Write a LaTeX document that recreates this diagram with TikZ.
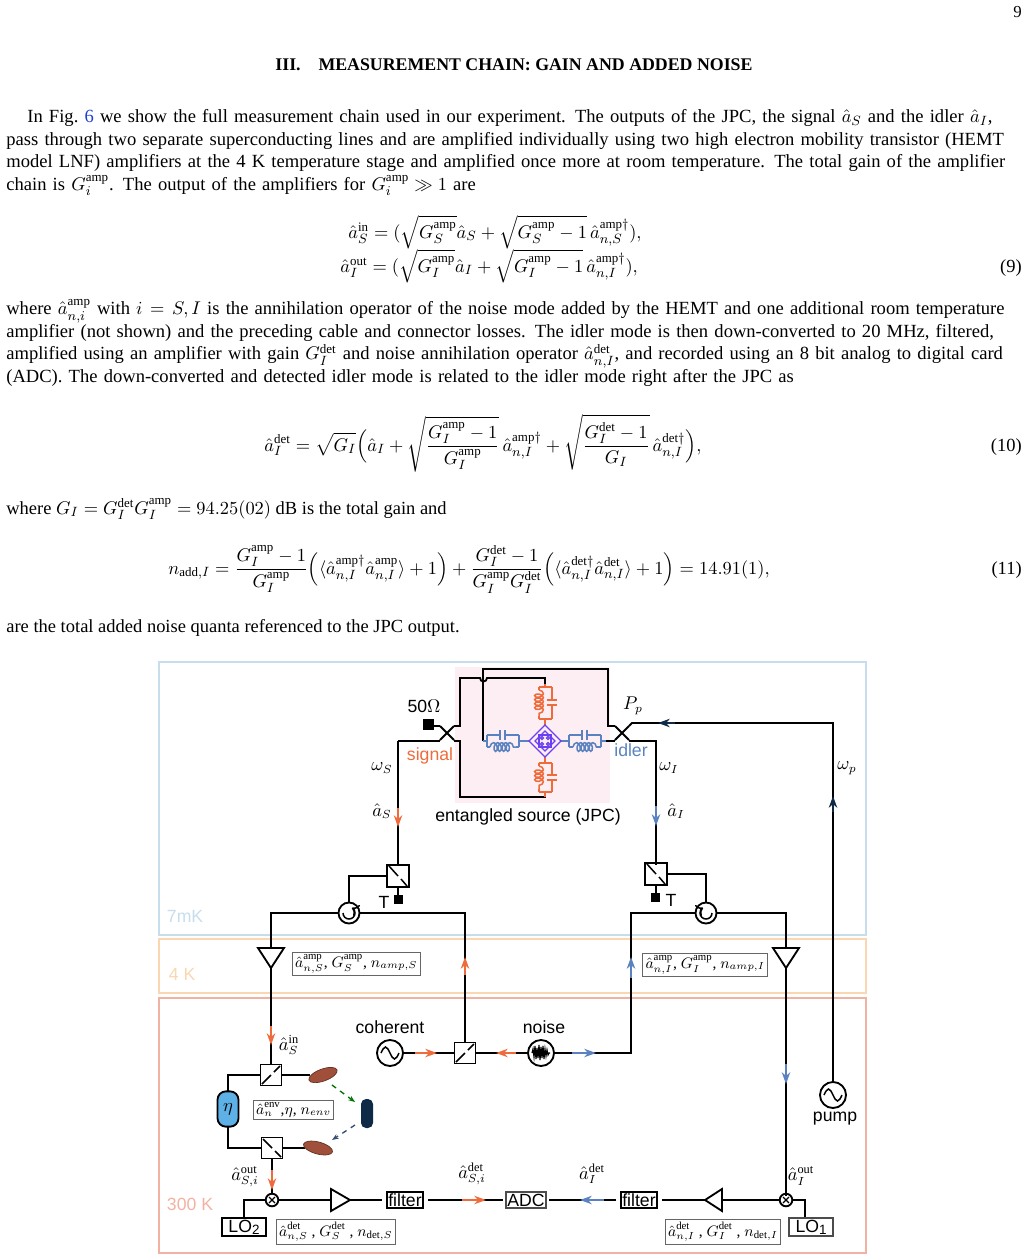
\documentclass[tikz,border=0pt]{standalone}
\usepackage{amsmath,amssymb}
\usepackage{fontspec}
\setmainfont{Liberation Serif}
\newfontfamily\lsans{Liberation Sans}
\usetikzlibrary{arrows.meta,decorations.pathmorphing,shapes.geometric}
\definecolor{sig}{HTML}{EE6B3B}
\definecolor{idl}{HTML}{5B82C0}
\definecolor{navy}{HTML}{0E2A47}
\definecolor{cmk}{HTML}{C8DDEC}
\definecolor{cfk}{HTML}{FAD7B0}
\definecolor{cth}{HTML}{F2B2A3}
\definecolor{pinkbg}{HTML}{FDEEF3}
\definecolor{purp}{HTML}{6A40F0}
\definecolor{etab}{HTML}{5DB1E6}
\definecolor{mirr}{HTML}{A0503A}
\definecolor{lnk}{HTML}{2040D0}
\begin{document}
\begin{tikzpicture}[x=0.595pt,y=-0.595pt,
  wire/.style={line width=1.1pt,black},
  tip/.style={-{Stealth[length=7pt,width=5pt]},line width=1.1pt},
  box/.style={draw,line width=1.1pt,inner sep=1pt,font=\lsans\fontsize{10.5}{10}\selectfont},
  lbox/.style={draw=black!60,line width=0.6pt,inner sep=1.5pt,fill=white,font=\fontsize{9.2}{10}\selectfont},
  ml/.style={font=\fontsize{10.5}{11}\selectfont},
  sans/.style={font=\lsans\fontsize{10.5}{11}\selectfont},
  coilp/.style={decorate,decoration={coil,aspect=0.6,segment length=2.4pt,amplitude=2.6pt}},
  eq/.style={inner sep=0pt,font=\fontsize{11}{13}\selectfont},
  para/.style={anchor=north west,inner sep=0pt,text width=604.5pt,font=\fontsize{11.05}{13.5}\selectfont}]
\useasboundingbox (0,0) rectangle (1029,1260);
% ---------- text ----------
\node[anchor=base east,inner sep=0pt,font=\fontsize{10}{10}\selectfont] (pg) at (1022,18) {9};
\node[anchor=base,inner sep=0pt,font=\bfseries\fontsize{10.6}{11}\selectfont] (sec) at (514,71) {III.\quad MEASUREMENT CHAIN: GAIN AND ADDED NOISE};
\node[para] (p1) at (6,109) {\hspace*{12.5pt}In Fig.~\textcolor{lnk}{6} we show the full measurement chain used in our experiment. The outputs of the JPC, the signal $\hat a_S$ and the idler $\hat a_I$, pass through two separate superconducting lines and are amplified individually using two high electron mobility transistor (HEMT model LNF) amplifiers at the 4 K temperature stage and amplified once more at room temperature. The total gain of the amplifier chain is $G_i^{\rm amp}$. The output of the amplifiers for $G_i^{\rm amp}\gg 1$ are};
\node[eq,anchor=base west] (e9a) at (348,238) {$\hat a_S^{\rm in}=(\sqrt{G_S^{\rm amp}}\hat a_S+\sqrt{G_S^{\rm amp}-1}\,\hat a_{n,S}^{\rm amp\dagger}),$};
\node[eq,anchor=base west] (e9b) at (340,272) {$\hat a_I^{\rm out}=(\sqrt{G_I^{\rm amp}}\hat a_I+\sqrt{G_I^{\rm amp}-1}\,\hat a_{n,I}^{\rm amp\dagger}),$};
\node[eq,anchor=base east] (n9) at (1022,272) {(9)};
\node[para] (p2) at (6,299) {where $\hat a^{\rm amp}_{n,i}$ with $i=S,I$ is the annihilation operator of the noise mode added by the HEMT and one additional room temperature amplifier (not shown) and the preceding cable and connector losses. The idler mode is then down-converted to 20 MHz, filtered, amplified using an amplifier with gain $G_I^{\rm det}$ and noise annihilation operator $\hat a^{\rm det}_{n,I}$, and recorded using an 8 bit analog to digital card (ADC). The down-converted and detected idler mode is related to the idler mode right after the JPC as};
\node[eq,anchor=base west] (e10) at (264,451) {$\displaystyle \hat a_I^{\rm det}=\sqrt{G_I}\Big(\hat a_I+\sqrt{\frac{G_I^{\rm amp}-1}{G_I^{\rm amp}}}\,\hat a_{n,I}^{\rm amp\dagger}+\sqrt{\frac{G_I^{\rm det}-1}{G_I}}\,\hat a_{n,I}^{\rm det\dagger}\Big),$};
\node[eq,anchor=base east] (n10) at (1022,451) {(10)};
\node[eq,anchor=base west] (p3) at (6,514) {where $G_I=G_I^{\rm det}G_I^{\rm amp}=94.25(02)$ dB is the total gain and};
\node[eq,anchor=base west] (e11) at (168,574) {$\displaystyle n_{{\rm add},I}=\frac{G_I^{\rm amp}-1}{G_I^{\rm amp}}\Big(\langle\hat a^{\rm amp\dagger}_{n,I}\hat a^{\rm amp}_{n,I}\rangle+1\Big)+\frac{G_I^{\rm det}-1}{G_I^{\rm amp}G_I^{\rm det}}\Big(\langle\hat a^{\rm det\dagger}_{n,I}\hat a^{\rm det}_{n,I}\rangle+1\Big)=14.91(1),$};
\node[eq,anchor=base east] (n11) at (1022,574) {(11)};
\node[eq,anchor=base west] (p4) at (6,632) {are the total added noise quanta referenced to the JPC output.};
% ---------- figure frames ----------
\draw[cmk,line width=1.2pt] (159,662) rectangle (866,935);
\draw[cfk,line width=1.2pt] (159,939) rectangle (866,993);
\draw[cth,line width=1.2pt] (159,998) rectangle (866,1253);
\node[sans,text=cmk,anchor=west] (l7) at (161,916) {7mK};
\node[sans,text=cfk,anchor=west] (l4) at (163,974) {4 K};
\node[sans,text=cth,anchor=west] (l3) at (161,1204) {300 K};
\fill[pinkbg] (455,667) rectangle (610,803);
% ---------- JPC ----------
\coordinate (cs) at (447,733);
\coordinate (ci) at (622,733);
\draw[wire] (cs)++(-7,-7)--++(14,14) (cs)++(-7,7)--++(14,-14);
\draw[wire] (ci)++(-7,-7)--++(14,14) (ci)++(-7,7)--++(14,-14);
\fill (423,719) rectangle (434,730);
\node[sans,anchor=south] (ohm) at (424,719) {50$\Omega$};
\draw[wire] (434,726)--(440,726);
\draw[wire] (454,726)--(460,726)--(460,678)--(480,678) arc[start angle=180,end angle=0,radius=3.5]--(545,678)--(545,684);
\draw[wire] (454,741)--(460,741)--(460,797)--(545,797)--(545,792);
\draw[wire] (483,741)--(483,669)--(608,669)--(608,726)--(615,726);
\draw[wire] (398,741)--(440,741);
\draw[wire] (629,741)--(656,741)--(656,865);
\begin{scope}[sig,line width=0.9pt]
\draw (545,684)--(545,687) (539,687)--(552,687) (539,687)--(539,690) (539,716)--(539,719) (539,719)--(552,719) (545,719)--(545,725);
\draw[coilp] (539,690)--(539,716);
\draw (552,687)--(552,700) (547,700)--(557,700) (547,705)--(557,705) (552,705)--(552,719);
\draw (545,757)--(545,763) (539,763)--(552,763) (539,763)--(539,766) (539,789)--(539,792) (539,792)--(552,792) (545,792)--(545,797);
\draw[coilp] (539,766)--(539,789);
\draw (552,763)--(552,775) (547,775)--(557,775) (547,780)--(557,780) (552,780)--(552,792);
\end{scope}
\begin{scope}[idl,line width=0.9pt]
\draw (483,741)--(487,741) (487,735)--(487,747) (487,735)--(500,735) (500,730)--(500,740) (505,730)--(505,740) (505,735)--(519,735) (519,735)--(519,747) (487,747)--(490,747) (516,747)--(519,747) (519,741)--(529,741);
\draw[coilp] (490,747)--(516,747);
\draw (561,741)--(569,741) (569,735)--(569,747) (569,735)--(582,735) (582,730)--(582,740) (587,730)--(587,740) (587,735)--(601,735) (601,735)--(601,747) (569,747)--(573,747) (597,747)--(601,747) (601,741)--(606,741);
\draw[coilp] (573,747)--(597,747);
\end{scope}
\draw[black,line width=0.9pt] (606,741)--(615,741);
\begin{scope}[purp,line width=0.8pt]
\draw (545,725)--(561,741)--(545,757)--(529,741)--cycle;
\draw (545,731)--(555,741)--(545,751)--(535,741)--cycle;
\draw (539,735) rectangle (551,747);
\foreach \p in {(542,738),(548,738),(542,744),(548,744)} \draw \p circle (1.5);
\end{scope}
\node[sans,text=sig,anchor=center] (sg) at (430,756) {signal};
\node[sans,text=idl,anchor=center] (il) at (631,750) {idler};
\node[sans,anchor=center] (jpc) at (528,817) {entangled source (JPC)};
\node[ml] (ws) at (382,768) {$\omega_S$};
\node[ml] (as) at (382,811) {$\hat a_S$};
\node[ml] (wi) at (669,768) {$\omega_I$};
\node[ml] (ai) at (676,811) {$\hat a_I$};
\node[ml] (pp) at (633,706) {$P_p$};
\node[ml] (wp) at (847,768) {$\omega_p$};
% pump line
\draw[wire] (629,726)--(632,723)--(833,723)--(833,1082);
\draw[tip,navy] (675,723)--(658,723);
\draw[tip,navy] (833,812)--(833,796);
\node[draw,circle,line width=1.1pt,minimum size=15.5pt,inner sep=0pt] (pump) at (833,1095) {};
\draw[line width=0.9pt] (824,1095) sin (828.5,1089) cos (833,1095) sin (837.5,1101) cos (842,1095);
\node[sans,anchor=north] (pl) at (835,1106) {pump};
% signal chain
\draw[wire] (398,741)--(398,865);
\draw[tip,sig] (398,808)--(398,827);
\node[draw,line width=1.1pt,minimum size=13pt,inner sep=0pt] (sp1) at (398,876) {};
\draw[line width=0.9pt] (389,866)--(398,876) (401,879)--(407,886);
\draw[wire] (398,887)--(398,895); \fill (394,895) rectangle (403,904);
\node[sans] (t1) at (384,902) {T};
\draw[wire] (387,876)--(349,876)--(349,903);
\node[draw,circle,line width=1.1pt,minimum size=12.5pt,inner sep=0pt] (circ1) at (349,913) {};
\draw[line width=0.9pt,->] (343,913) arc[start angle=180,end angle=-60,radius=6];
\draw[wire] (339,913)--(271,913)--(271,948);
\draw[wire] (359,913)--(465,913)--(465,1042);
\draw[tip,sig] (465,975)--(465,957);
\draw[wire] (258,948)--(284,948)--(271,968)--cycle;
\node[lbox,anchor=west] (lb1) at (292,964) {$\hat a_{n,S}^{\rm amp}$, $G_S^{\rm amp}$, $n_{amp,S}$};
\draw[wire] (271,968)--(271,1064);
\draw[tip,sig] (271,1026)--(271,1045);
\node[ml] (ain) at (289,1045) {$\hat a_S^{\rm in}$};
\node[draw,line width=1.1pt,minimum size=12.5pt,inner sep=0pt] (bs1) at (271,1075) {};
\draw[line width=0.9pt] (262,1084)--(271,1075) (274,1072)--(280,1066);
\draw[wire] (260,1075)--(228,1075)--(228,1092);
\node[draw,line width=1.1pt,fill=etab,rounded corners=5pt,minimum width=12.5pt,minimum height=21pt,inner sep=0pt,ml] (eta) at (228,1109) {$\eta$};
\draw[wire] (228,1126)--(228,1148)--(261,1148);
\node[draw,line width=1.1pt,minimum size=12.5pt,inner sep=0pt] (bs2) at (272,1148) {};
\draw[line width=0.9pt] (263,1139)--(272,1148) (275,1151)--(281,1157);
\draw[wire] (282,1075)--(310,1075);
\draw[wire] (283,1148)--(305,1148);
\draw[fill=mirr,draw=mirr!60!black,rotate around={20:(323,1075)}] (323,1075) ellipse (15 and 6);
\draw[fill=mirr,draw=mirr!60!black,rotate around={-15:(318,1148)}] (318,1148) ellipse (15 and 6);
\fill[navy,rounded corners=3pt] (361,1099) rectangle (373,1128);
\draw[dashed,green!45!black,line width=0.8pt,-{Stealth[length=4pt]}] (332,1085)--(355,1102);
\draw[dashed,idl!60!black,line width=0.8pt,-{Stealth[length=4pt]}] (355,1125)--(332,1140);
\node[lbox,anchor=west] (lb2) at (253,1110) {$\hat a_n^{\rm env}$,$\eta$, $n_{env}$};
\draw[wire] (272,1159)--(272,1194);
\draw[tip,sig] (272,1170)--(272,1190);
\node[ml] (aout) at (245,1177) {$\hat a_{S,i}^{\rm out}$};
\node[draw,circle,line width=1.1pt,minimum size=7.5pt,inner sep=0pt] (mx1) at (272,1200) {};
\draw[line width=0.8pt] (269,1197)--(275,1203) (269,1203)--(275,1197);
\draw[wire] (266,1200)--(244,1200)--(244,1218);
\node[box,minimum width=26pt] (lo2) at (244,1227) {LO\raisebox{-1pt}{\fontsize{8}{8}\selectfont 2}};
\draw[wire] (278,1200)--(331,1200);
\draw[wire] (331,1189)--(350,1200)--(331,1211)--cycle;
\draw[wire] (350,1200)--(382,1200);
\node[box] (f1) at (405,1200) {filter};
\draw[wire] (428,1200)--(503,1200);
\draw[tip,sig] (462,1200)--(486,1200);
\node[ml] (adet) at (472,1174) {$\hat a_{S,i}^{\rm det}$};
\node[box,draw=black!70] (adc) at (526,1200) {ADC};
\node[lbox,anchor=west] (lb3) at (276,1232) {$\hat a_{n,S}^{\rm det}$ , $G_S^{\rm det}$ , $n_{{\rm det},S}$};
% coherent/noise
\node[draw,circle,line width=1.1pt,minimum size=15.5pt,inner sep=0pt] (coh) at (390,1053) {};
\draw[line width=0.9pt] (381,1053) sin (385.5,1047) cos (390,1053) sin (394.5,1059) cos (399,1053);
\node[sans,anchor=south] (cohl) at (390,1040) {coherent};
\draw[wire] (403,1053)--(454,1053);
\draw[tip,sig] (415,1053)--(437,1053);
\node[draw,line width=1.1pt,minimum size=12.5pt,inner sep=0pt] (bs3) at (465,1053) {};
\draw[line width=0.9pt] (456,1062)--(465,1053) (468,1050)--(474,1044);
\draw[wire] (476,1053)--(528,1053);
\draw[tip,sig] (516,1053)--(496,1053);
\node[draw,circle,line width=1.1pt,minimum size=15.5pt,inner sep=0pt] (noi) at (541,1053) {};
\draw[line width=0.7pt] (532,1053)--(533,1049)--(534,1057)--(535,1046)--(536,1059)--(537,1048)--(538,1058)--(539,1045)--(540,1060)--(541,1047)--(542,1058)--(543,1046)--(544,1059)--(545,1049)--(546,1056)--(547,1050)--(548,1055)--(549,1053)--(550,1053);
\node[sans,anchor=south] (noil) at (544,1040) {noise};
\draw[wire] (554,1053)--(631,1053)--(631,913)--(696,913);
\draw[tip,idl] (572,1053)--(596,1053);
\draw[tip,idl] (631,978)--(631,957);
% idler chain
\draw[tip,idl] (656,806)--(656,826);
\node[draw,line width=1.1pt,minimum size=13pt,inner sep=0pt] (sp2) at (656,874) {};
\draw[line width=0.9pt] (647,864)--(656,874) (659,877)--(665,884);
\draw[wire] (656,885)--(656,893); \fill (651,893) rectangle (660,902);
\node[sans] (t2) at (671,900) {T};
\draw[wire] (667,874)--(706,874)--(706,903);
\node[draw,circle,line width=1.1pt,minimum size=12.5pt,inner sep=0pt] (circ2) at (706,913) {};
\draw[line width=0.9pt,->] (712,913) arc[start angle=0,end angle=240,radius=6];
\draw[wire] (716,913)--(786,913)--(786,948);
\draw[wire] (773,948)--(799,948)--(786,968)--cycle;
\node[lbox,anchor=east] (lb4) at (768,965) {$\hat a_{n,I}^{\rm amp}$, $G_I^{\rm amp}$, $n_{amp,I}$};
\draw[wire] (786,968)--(786,1196);
\draw[tip,idl] (786,1064)--(786,1084);
\node[ml] (aouti) at (801,1176) {$\hat a_I^{\rm out}$};
\node[draw,circle,line width=1.1pt,minimum size=7.5pt,inner sep=0pt] (mx2) at (786,1200) {};
\draw[line width=0.8pt] (783,1197)--(789,1203) (783,1203)--(789,1197);
\draw[wire] (792,1200)--(805,1200)--(805,1218);
\node[box,draw=black!70,minimum width=26pt] (lo1) at (811,1227) {LO\raisebox{-1pt}{\fontsize{8}{8}\selectfont 1}};
\draw[wire] (780,1200)--(722,1200);
\draw[wire] (722,1189)--(705,1200)--(722,1211)--cycle;
\draw[wire] (705,1200)--(662,1200);
\node[box] (f2) at (639,1200) {filter};
\draw[wire] (616,1200)--(549,1200);
\draw[tip,idl] (604,1200)--(580,1200);
\node[ml] (adeti) at (592,1174) {$\hat a_I^{\rm det}$};
\node[lbox,anchor=east] (lb5) at (781,1232) {$\hat a_{n,I}^{\rm det}$ , $G_I^{\rm det}$ , $n_{{\rm det},I}$};
\end{tikzpicture}
\end{document}
